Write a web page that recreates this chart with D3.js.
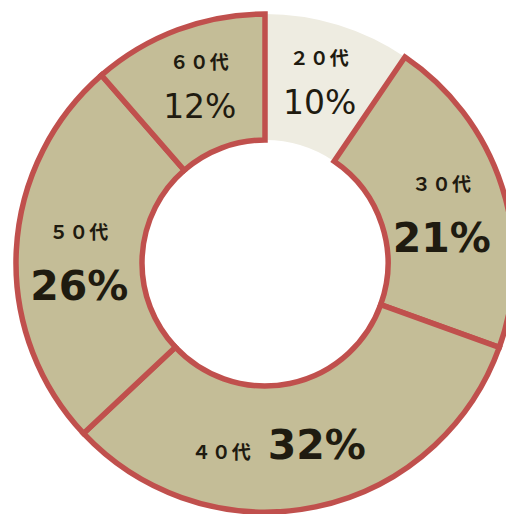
<!DOCTYPE html>
<html lang="ja">

<head>
    <meta charset="UTF-8">
    <title>年代別</title>
    <script src="https://d3js.org/d3.v7.min.js"></script>
    <style>
        body {
            margin: 0;
            background: #fff;
        }

        text {
            fill: #1f1b10;
        }

        .age {
            font-family: "Noto Sans CJK JP", sans-serif;
            font-weight: bold;
            font-size: 19px;
            letter-spacing: 1px;
        }

        .pct {
            font-family: "DejaVu Sans", Verdana, sans-serif;
        }
    </style>
</head>

<body>
    <div id="chart"></div>
    <script>
        const ages = ['２０代', '３０代', '４０代', '５０代', '６０代'];
        // slice sizes (the printed percentages are rounded)
        const shares = [9.5, 21.0, 32.5, 25.6, 11.4];
        const pctLabels = ['10%', '21%', '32%', '26%', '12%'];

        const width = 506;
        const height = 514;
        const cx = 265, cy = 263;
        const outerR = 249, innerR = 123;

        const fills = ['#eeece1', '#c4bd97', '#c4bd97', '#c4bd97', '#c4bd97'];

        const svg = d3.select('#chart')
            .append('svg')
            .attr('width', width)
            .attr('height', height);

        const g = svg.append('g')
            .attr('transform', `translate(${cx},${cy})`);

        const pie = d3.pie().sort(null).value(d => d);
        const arcs = pie(shares);

        const arc = d3.arc()
            .innerRadius(innerR)
            .outerRadius(outerR);

        g.selectAll('path')
            .data(arcs)
            .join('path')
            .attr('d', arc)
            .attr('fill', (d, i) => fills[i])
            .attr('stroke', (d, i) => i === 0 ? 'none' : '#c0504d')
            .attr('stroke-width', 5.5)
            .attr('stroke-linejoin', 'miter');

        const labels = g.append('g');

        arcs.forEach((d, i) => {
            const [x, y] = arc.centroid(d);
            const big = d.data > 15;
            if (i === 2) {
                // 40代 sits on one line
                labels.append('text')
                    .attr('class', 'age')
                    .attr('x', x - 51)
                    .attr('y', y + 14)
                    .attr('text-anchor', 'end')
                    .text(ages[i]);
                labels.append('text')
                    .attr('class', 'pct')
                    .attr('x', x - 35)
                    .attr('y', y + 14)
                    .attr('text-anchor', 'start')
                    .attr('font-size', 41)
                    .attr('font-weight', 'bold')
                    .text(pctLabels[i]);
            } else {
                labels.append('text')
                    .attr('class', 'age')
                    .attr('x', x)
                    .attr('y', y + (big ? -15 : -20))
                    .attr('text-anchor', 'middle')
                    .text(ages[i]);
                labels.append('text')
                    .attr('class', 'pct')
                    .attr('x', x)
                    .attr('y', y + (big ? 46 : 29))
                    .attr('text-anchor', 'middle')
                    .attr('font-size', big ? 41 : 33)
                    .attr('font-weight', big ? 'bold' : 'normal')
                    .text(pctLabels[i]);
            }
        });
    </script>
</body>

</html>
